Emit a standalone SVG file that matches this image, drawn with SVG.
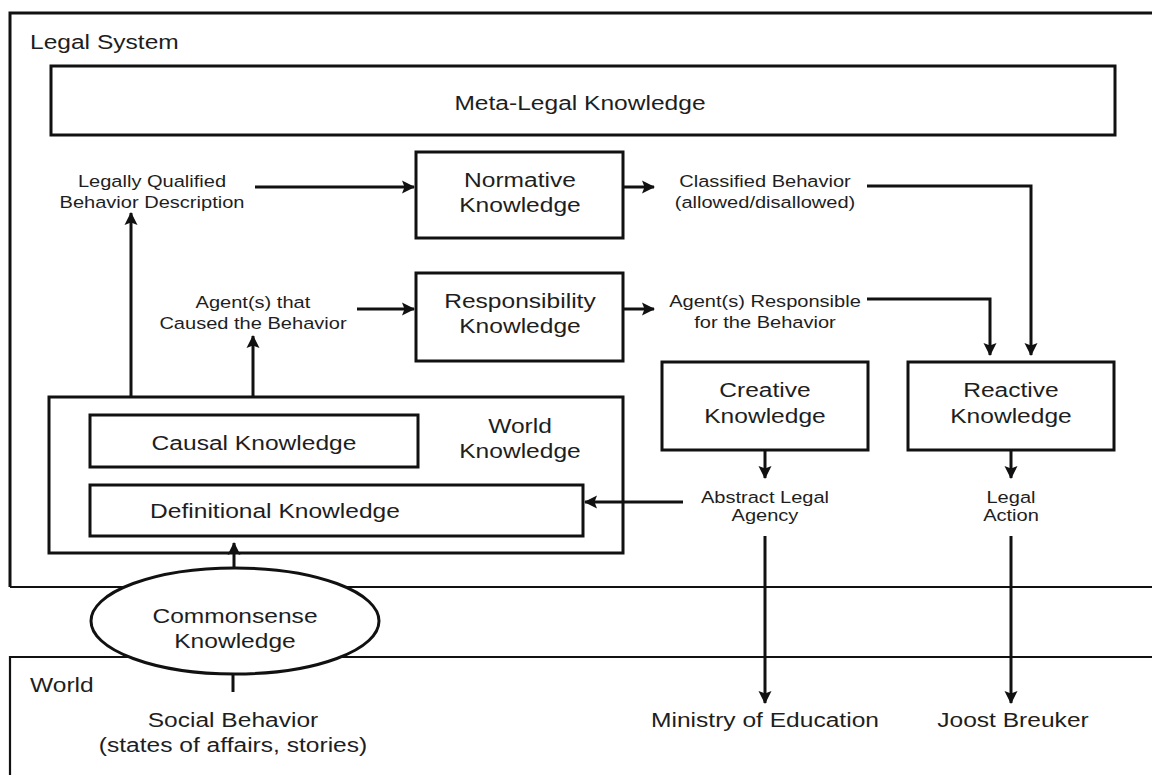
<svg xmlns="http://www.w3.org/2000/svg" width="1152" height="775" viewBox="0 0 1152 775">
  <style>
    .bg { fill: #ffffff; }
    .box { fill: none; stroke: #111111; stroke-width: 3; }
    .frame { fill: none; stroke: #111111; stroke-width: 3; }
    .frame-thin { fill: none; stroke: #111111; stroke-width: 2.2; }
    .oval { fill: #ffffff; stroke: #111111; stroke-width: 3; }
    .wire { fill: none; stroke: #111111; stroke-width: 3; }
    .arrow { fill: none; stroke: #111111; stroke-width: 3; marker-end: url(#head); }
    text { font-family: "Liberation Sans", Arial, sans-serif; fill: #1e1e1e; }
    .lbl { font-size: 21px; text-anchor: middle; transform-box: fill-box; transform-origin: 50% 50%; transform: scaleX(1.17); }
    .sm { font-size: 17px; text-anchor: middle; transform-box: fill-box; transform-origin: 50% 50%; transform: scaleX(1.18); }
    .cap { font-size: 21px; text-anchor: start; transform-box: fill-box; transform-origin: 0 50%; transform: scaleX(1.17); }
  </style>
  <defs>
    <marker id="head" markerUnits="userSpaceOnUse" markerWidth="13" markerHeight="14" refX="12" refY="7" orient="auto">
      <path d="M0,0.5 L13,7 L0,13.5 L2.5,7 Z" fill="#111111"/>
    </marker>
  </defs>

  <rect class="bg" x="0" y="0" width="1152" height="775"/>

  <!-- Legal System frame (open to the right) -->
  <g id="legal-system">
    <path class="frame" d="M1160,13 H10 V587"/>
    <path class="frame-thin" d="M10,587 H1160"/>
    <text class="cap" x="30" y="49">Legal System</text>
  </g>

  <!-- World frame (open to the right and bottom) -->
  <g id="world">
    <path class="frame-thin" d="M1160,657 H10 V780"/>
    <text class="cap" x="30" y="692">World</text>
  </g>

  <g id="meta-legal">
    <rect class="box" x="51" y="66" width="1064" height="69"/>
    <text class="lbl" x="580" y="110">Meta-Legal Knowledge</text>
  </g>

  <g id="normative">
    <rect class="box" x="416" y="152" width="207" height="86"/>
    <text class="lbl" x="520" y="187">Normative</text>
    <text class="lbl" x="520" y="212">Knowledge</text>
  </g>

  <g id="responsibility">
    <rect class="box" x="416" y="273" width="207" height="88"/>
    <text class="lbl" x="520" y="308">Responsibility</text>
    <text class="lbl" x="520" y="333">Knowledge</text>
  </g>

  <g id="creative">
    <rect class="box" x="662" y="362" width="206" height="88"/>
    <text class="lbl" x="765" y="397">Creative</text>
    <text class="lbl" x="765" y="423">Knowledge</text>
  </g>

  <g id="reactive">
    <rect class="box" x="908" y="362" width="206" height="88"/>
    <text class="lbl" x="1011" y="397">Reactive</text>
    <text class="lbl" x="1011" y="423">Knowledge</text>
  </g>

  <g id="world-knowledge">
    <rect class="box" x="49" y="397" width="574" height="156"/>
    <text class="lbl" x="520" y="433">World</text>
    <text class="lbl" x="520" y="458">Knowledge</text>
  </g>

  <g id="causal">
    <rect class="box" x="90" y="415" width="328" height="52"/>
    <text class="lbl" x="254" y="450">Causal Knowledge</text>
  </g>

  <g id="definitional">
    <rect class="box" x="90" y="485" width="493" height="51"/>
    <text class="lbl" x="275" y="518">Definitional Knowledge</text>
  </g>

  <!-- Intermediate results -->
  <g id="qualified-description">
    <text class="sm" x="152" y="187">Legally Qualified</text>
    <text class="sm" x="152" y="208">Behavior Description</text>
  </g>
  <g id="causing-agents">
    <text class="sm" x="253" y="308">Agent(s) that</text>
    <text class="sm" x="253" y="329">Caused the Behavior</text>
  </g>
  <g id="classified-behavior">
    <text class="sm" x="765" y="187">Classified Behavior</text>
    <text class="sm" x="765" y="208">(allowed/disallowed)</text>
  </g>
  <g id="responsible-agents">
    <text class="sm" x="765" y="307">Agent(s) Responsible</text>
    <text class="sm" x="765" y="328">for the Behavior</text>
  </g>
  <g id="abstract-agency">
    <text class="sm" x="765" y="503">Abstract Legal</text>
    <text class="sm" x="765" y="521">Agency</text>
  </g>
  <g id="legal-action">
    <text class="sm" x="1011" y="503">Legal</text>
    <text class="sm" x="1011" y="521">Action</text>
  </g>

  <g id="social-behavior">
    <text class="lbl" x="233" y="727">Social Behavior</text>
    <text class="lbl" x="233" y="752">(states of affairs, stories)</text>
  </g>
  <g id="ministry">
    <text class="lbl" x="765" y="727">Ministry of Education</text>
  </g>
  <g id="breuker">
    <text class="lbl" x="1013" y="727">Joost Breuker</text>
  </g>

  <!-- Connectors -->
  <g id="connectors">
    <path class="arrow" d="M131,397 V213"/>
    <path class="arrow" d="M253,397 V336"/>
    <path class="arrow" d="M255,187 H414"/>
    <path class="arrow" d="M357,309 H414"/>
    <path class="arrow" d="M623,187 H654"/>
    <path class="arrow" d="M623,309 H654"/>
    <path class="arrow" d="M867,186 H1031 V355"/>
    <path class="arrow" d="M867,299 H990 V355"/>
    <path class="arrow" d="M765,450 V478"/>
    <path class="arrow" d="M1011,450 V478"/>
    <path class="arrow" d="M683,502 H585"/>
    <path class="arrow" d="M765,536 V703"/>
    <path class="arrow" d="M1011,536 V703"/>
    <path class="arrow" d="M234,570 V543"/>
    <path class="wire" d="M233,672 V692"/>
  </g>

  <g id="commonsense">
    <ellipse class="oval" cx="235" cy="621" rx="144" ry="53"/>
    <text class="lbl" x="235" y="623">Commonsense</text>
    <text class="lbl" x="235" y="648">Knowledge</text>
  </g>
</svg>
